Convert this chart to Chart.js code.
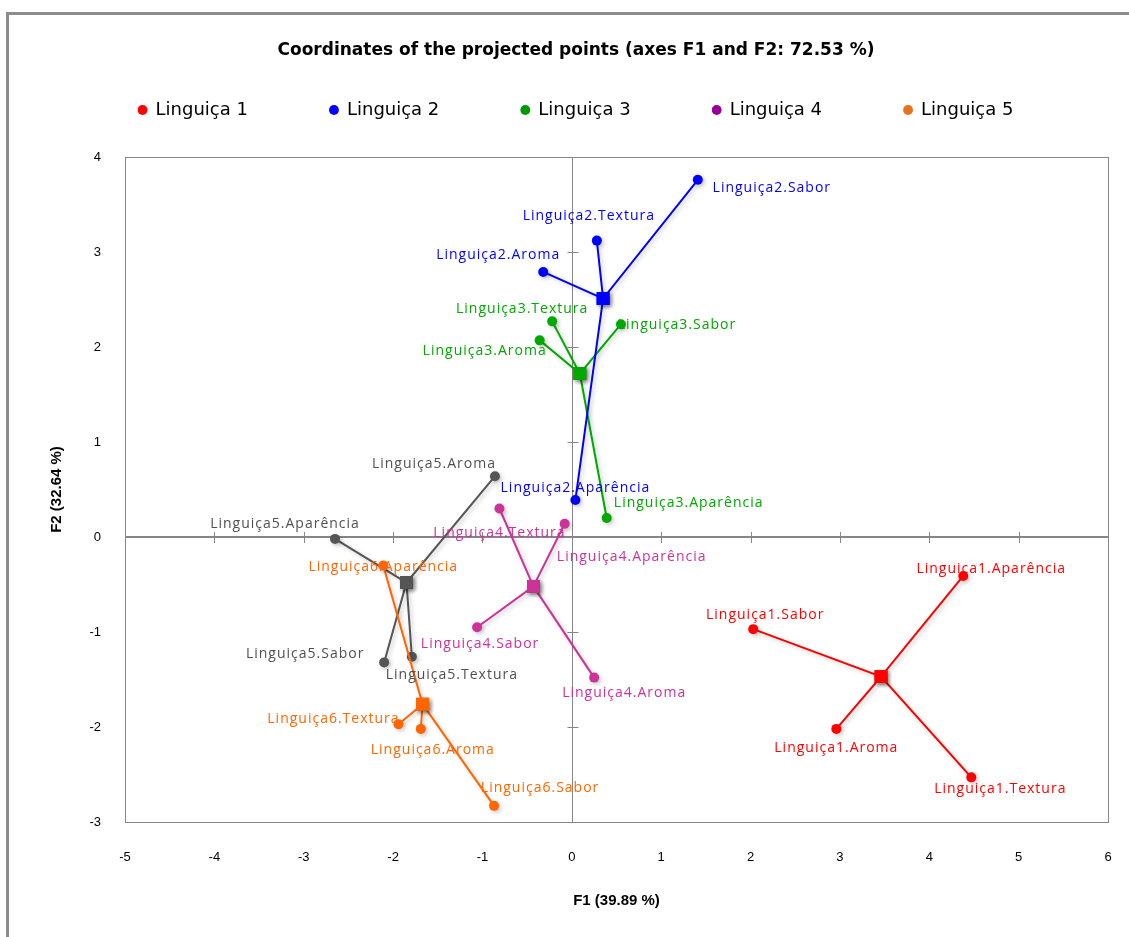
<!DOCTYPE html>
<html><head><meta charset="utf-8">
<script src="https://cdn.jsdelivr.net/npm/chart.js@4.4.0/dist/chart.umd.min.js"></script>
<style>html,body{margin:0;padding:0;background:#fff;}</style>
</head><body>
<canvas id="c" width="1129" height="937"></canvas>
<script>
// ---- data ----
const products = ['Linguiça1','Linguiça2','Linguiça3','Linguiça4','Linguiça5','Linguiça6'];
const attributes = ['Aparência','Aroma','Sabor','Textura'];
const legendNames = ['Linguiça 1','Linguiça 2','Linguiça 3','Linguiça 4','Linguiça 5'];
const chartTitle = 'Coordinates of the projected points (axes F1 and F2: 72.53 %)';
const xTitle = 'F1 (39.89 %)';
const yTitle = 'F2 (32.64 %)';
const xMin = -5, xMax = 6, yMin = -3, yMax = 4;

const L1_F1 = [4.38, 2.96, 2.03, 4.47];
const L1_F2 = [-0.41, -2.02, -0.97, -2.53];
const L2_F1 = [0.04, -0.32, 1.41, 0.28];
const L2_F2 = [0.39, 2.79, 3.76, 3.12];
const L3_F1 = [0.39, -0.36, 0.55, -0.22];
const L3_F2 = [0.20, 2.07, 2.24, 2.27];
const L4_F1 = [-0.08, 0.25, -1.06, -0.81];
const L4_F2 = [0.14, -1.48, -0.95, 0.30];
const L5_F1 = [-2.65, -0.86, -2.10, -1.79];
const L5_F2 = [-0.02, 0.64, -1.32, -1.26];
const L6_F1 = [-2.11, -1.69, -0.87, -1.94];
const L6_F2 = [-0.30, -2.02, -2.83, -1.97];
const centroidF1 = [3.46, 0.35, 0.09, -0.43, -1.85, -1.67];
const centroidF2 = [-1.47, 2.51, 1.72, -0.52, -0.48, -1.76];

// ---- styles ----
const allF1 = [L1_F1, L2_F1, L3_F1, L4_F1, L5_F1, L6_F1];
const allF2 = [L1_F2, L2_F2, L3_F2, L4_F2, L5_F2, L6_F2];
const seriesColors = ['#FF0000', '#0000FF', '#00A800', '#CC3399', '#555555', '#FF6600'];
const labelColors = ['#FF0000', '#0000FF', '#00A800', '#CC3399', '#505050', '#FF6600'];
const legendColors = ['#FF0000', '#0000FF', '#009900', '#990099', '#E8711C'];
const drawOrder = [1, 2, 3, 4, 6, 5];
// label offsets (px) of text centre from the point, per product, per attribute
const labelOffsets = [
  [[28,-7],[0,19],[12,-14],[29,12]],
  [[0,-12],[-45,-17],[74,8],[-8,-25]],
  [[82,-15],[-55,11],[56,1],[-30,-12]],
  [[67,33],[30,15],[3,17],[0,25]],
  [[-50,-15],[-61,-12],[-79,-8],[40,18]],
  [[0,2],[12,21],[46,-18],[-65,-5]]
];

const datasets = products.map((p, g) => {
  const c = {x: centroidF1[g], y: centroidF2[g], centre: true};
  const pts = [];
  attributes.forEach((a, i) => {
    if (i > 0) pts.push(c);
    pts.push({x: allF1[g][i], y: allF2[g][i], centre: false});
  });
  return {
    label: p,
    data: pts,
    showLine: true,
    borderColor: seriesColors[g],
    backgroundColor: seriesColors[g],
    borderWidth: 2,
    pointBorderWidth: 0,
    pointStyle: ctx => (ctx.raw && ctx.raw.centre) ? 'rect' : 'circle',
    pointRadius: ctx => (ctx.raw && ctx.raw.centre) ? 9 : 5,
    order: drawOrder[g]
  };
});

const LEGEND_PAD = 82;
const LEGEND_TOP = 19;
const AREA_TOP = 157;
const TITLE_FONT = 17;

const decor = {
  id: 'decor',
  beforeLayout(chart) {
    const lg = chart.legend;
    if (lg && !lg._patched) {
      const f = lg.fit;
      lg.fit = function() { f.call(this); this.height = AREA_TOP - LEGEND_TOP; };
      lg._patched = true;
    }
  },
  beforeDraw(chart) {
    const ctx = chart.ctx;
    ctx.save();
    ctx.strokeStyle = '#8c8c8c';
    ctx.lineWidth = 3;
    ctx.beginPath();
    ctx.moveTo(7.5, 940); ctx.lineTo(7.5, 13.5); ctx.lineTo(1135, 13.5);
    ctx.stroke();
    ctx.restore();
  },
  beforeDatasetsDraw(chart) {
    const ctx = chart.ctx, a = chart.chartArea;
    const xs = chart.scales.x, ys = chart.scales.y;
    ctx.save();
    ctx.strokeStyle = '#868686';
    ctx.lineWidth = 1;
    ctx.strokeRect(Math.round(a.left) + 0.5, Math.round(a.top) + 0.5, Math.round(a.right - a.left), Math.round(a.bottom - a.top));
    const y0 = Math.round(ys.getPixelForValue(0));
    const x0 = Math.round(xs.getPixelForValue(0)) + 0.5;
    ctx.lineWidth = 2;
    ctx.beginPath(); ctx.moveTo(a.left, y0); ctx.lineTo(a.right, y0); ctx.stroke();
    ctx.lineWidth = 1;
    ctx.beginPath(); ctx.moveTo(x0, a.top); ctx.lineTo(x0, a.bottom); ctx.stroke();
    ctx.beginPath();
    xs.ticks.forEach(t => {
      const px = Math.round(xs.getPixelForValue(t.value)) + 0.5;
      ctx.moveTo(px, y0 - 5); ctx.lineTo(px, y0 + 6);
    });
    ys.ticks.forEach(t => {
      const py = Math.round(ys.getPixelForValue(t.value)) + 0.5;
      ctx.moveTo(x0 - 5, py); ctx.lineTo(x0 + 6, py);
    });
    ctx.stroke();
    ctx.restore();
    ctx.save();
    ctx.shadowColor = 'rgba(0,0,0,0.22)';
    ctx.shadowBlur = 4;
    ctx.shadowOffsetX = 2;
    ctx.shadowOffsetY = 2;
  },
  afterDatasetsDraw(chart) {
    const ctx = chart.ctx;
    ctx.restore();
    const xs = chart.scales.x, ys = chart.scales.y;
    ctx.save();
    ctx.font = '14px "Open Sans"';
    try { ctx.letterSpacing = '1px'; } catch (e) {}
    ctx.textAlign = 'center';
    ctx.textBaseline = 'middle';
    products.forEach((p, g) => {
      ctx.fillStyle = labelColors[g];
      attributes.forEach((a, i) => {
        const px = xs.getPixelForValue(allF1[g][i]);
        const py = ys.getPixelForValue(allF2[g][i]);
        const o = labelOffsets[g][i];
        ctx.fillText(p + '.' + a, px + o[0], py + o[1]);
      });
    });
    try { ctx.letterSpacing = '0px'; } catch (e) {}
    ctx.restore();
  }
};

new Chart(document.getElementById('c'), {
  type: 'scatter',
  data: { datasets },
  options: {
    responsive: false,
    animation: false,
    devicePixelRatio: 1,
    layout: { padding: { left: 44, right: 21, top: 0, bottom: 0 } },
    plugins: {
      tooltip: { enabled: false },
      title: {
        display: true,
        text: chartTitle,
        color: '#000',
        font: { family: '"DejaVu Sans", sans-serif', size: TITLE_FONT, weight: 'bold', lineHeight: 1.2 },
        padding: { top: 40, bottom: LEGEND_TOP - 40 - TITLE_FONT * 1.2 }
      },
      legend: {
        display: true,
        position: 'top',
        labels: {
          usePointStyle: true,
          boxWidth: 8,
          boxHeight: 7,
          padding: LEGEND_PAD,
          color: '#111',
          font: { family: '"DejaVu Sans", sans-serif', size: 18 },
          generateLabels: () => legendNames.map((n, i) => ({
            text: n,
            fillStyle: legendColors[i],
            strokeStyle: legendColors[i],
            lineWidth: 0,
            pointStyle: 'circle',
            hidden: false,
            datasetIndex: i
          }))
        },
        onClick: () => {}
      }
    },
    scales: {
      x: {
        type: 'linear', position: 'bottom', min: xMin, max: xMax,
        grid: { display: false, drawTicks: true, tickLength: 20 },
        border: { display: false },
        ticks: { stepSize: 1, padding: 8, color: '#000', font: { family: '"Liberation Sans", Arial, sans-serif', size: 13 } },
        title: { display: true, text: xTitle, color: '#000',
          font: { family: '"Liberation Sans", Arial, sans-serif', size: 15, weight: 'bold', lineHeight: 1.2 },
          padding: { top: 0, bottom: 27 } },
        afterFit: s => { s.height = 115; }
      },
      y: {
        type: 'linear', position: 'left', min: yMin, max: yMax,
        grid: { display: false, drawTicks: true, tickLength: 16 },
        border: { display: false },
        ticks: { stepSize: 1, padding: 8, color: '#000', font: { family: '"Liberation Sans", Arial, sans-serif', size: 13 } },
        title: { display: true, text: yTitle, color: '#000',
          font: { family: '"Liberation Sans", Arial, sans-serif', size: 15, weight: 'bold', lineHeight: 1.2 },
          padding: { top: 4, bottom: 0 } },
        afterFit: s => { s.width = 81; }
      }
    }
  },
  plugins: [decor]
});
</script>
</body></html>
